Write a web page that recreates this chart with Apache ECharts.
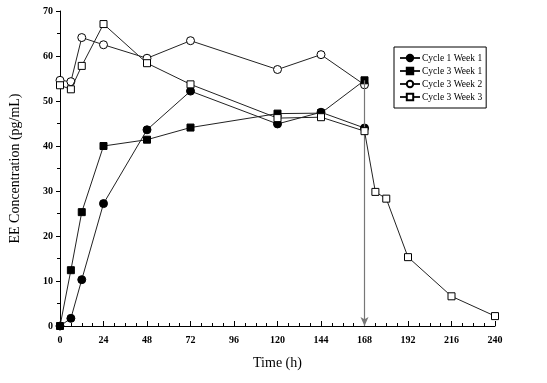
<!DOCTYPE html>
<html><head><meta charset="utf-8">
<script src="https://cdn.jsdelivr.net/npm/echarts@6/dist/echarts.min.js"></script>
<style>html,body{margin:0;padding:0;background:#fff}#c{width:547px;height:383px}</style>
</head><body><div id="c"></div>
<script>
var xTicks = [0,24,48,72,96,120,144,168,192,216,240];
var c1w1 = [[0,0],[6,1.7],[12,10.3],[24,27.2],[48,43.6],[72,52.2],[120,44.9],[144,47.5],[168,44.0]];
var c3w1 = [[0,0],[6,12.4],[12,25.3],[24,40.0],[48,41.4],[72,44.1],[120,47.2],[144,47.3],[168,54.6]];
var c3w2 = [[0,54.6],[6,54.3],[12,64.1],[24,62.5],[48,59.5],[72,63.4],[120,57.0],[144,60.3],[168,53.6]];
var c3w3 = [[0,53.5],[6,52.6],[12,57.8],[24,67.1],[48,58.4],[72,53.7],[120,46.2],[144,46.4],[168,43.3],[174,29.8],[180,28.3],[192,15.3],[216,6.6],[240,2.2]];
var names = ['Cycle 1 Week 1','Cycle 3 Week 1','Cycle 3 Week 2','Cycle 3 Week 3'];
var arrowX = 168, arrowTop = 54.6;

var font = 'Liberation Serif';
function s(name, data, symbol, filled, size, z){
  return {name:name,type:'line',data:data,symbol:symbol,symbolSize:size,z:z,
    lineStyle:{color:'#222',width:1},
    itemStyle:{color:filled?'#000':'#fff',borderColor:'#000',borderWidth:1,opacity:1},
    emphasis:{disabled:true},animation:false};
}
var series = [
  s(names[0],c1w1,'circle',true,8,4),
  s(names[1],c3w1,'rect',true,7,3),
  s(names[2],c3w2,'circle',false,8,2),
  s(names[3],c3w3,'rect',false,7,5)
];
series[3].markLine = {silent:true,symbol:['none','arrow'],symbolSize:[6,9],
  lineStyle:{color:'#777',width:1.2,type:'solid'},label:{show:false},animation:false,
  data:[[{coord:[arrowX,arrowTop]},{coord:[arrowX,0]}]]};

var chart = echarts.init(document.getElementById('c'));
chart.setOption({
  animation:false,
  grid:{left:58,right:52,top:11,bottom:57},
  legend:{left:394,top:47,orient:'vertical',itemGap:3,itemWidth:20,itemHeight:8,
    data:names,borderColor:'#000',borderWidth:1,padding:[6,4,6,5],
    textStyle:{fontFamily:font,fontSize:9.5,color:'#000',padding:[0,0,0,-3]}},
  xAxis:{type:'value',min:0,max:240,interval:24,
    name:'Time (h)',nameLocation:'middle',nameGap:30,
    nameTextStyle:{fontFamily:font,fontSize:14,color:'#000'},
    axisLine:{lineStyle:{color:'#000',width:1}},
    axisTick:{inside:true,length:5,lineStyle:{color:'#000'}},
    minorTick:{show:true,splitNumber:4,length:3,lineStyle:{color:'#000'}},
    axisLabel:{fontFamily:font,fontSize:10,color:'#000',fontWeight:'bold',margin:9},
    splitLine:{show:false}},
  yAxis:{type:'value',min:0,max:70,interval:10,
    name:'EE Concentration (pg/mL)',nameLocation:'middle',nameGap:38,
    nameTextStyle:{fontFamily:font,fontSize:14,color:'#000'},
    axisLine:{show:true,lineStyle:{color:'#000',width:1}},
    axisTick:{show:true,length:4,lineStyle:{color:'#000'}},
    minorTick:{show:true,splitNumber:2,length:3,lineStyle:{color:'#000'}},
    axisLabel:{fontFamily:font,fontSize:10,color:'#000',fontWeight:'bold',margin:7},
    splitLine:{show:false}},
  series:series
});
</script></body></html>
